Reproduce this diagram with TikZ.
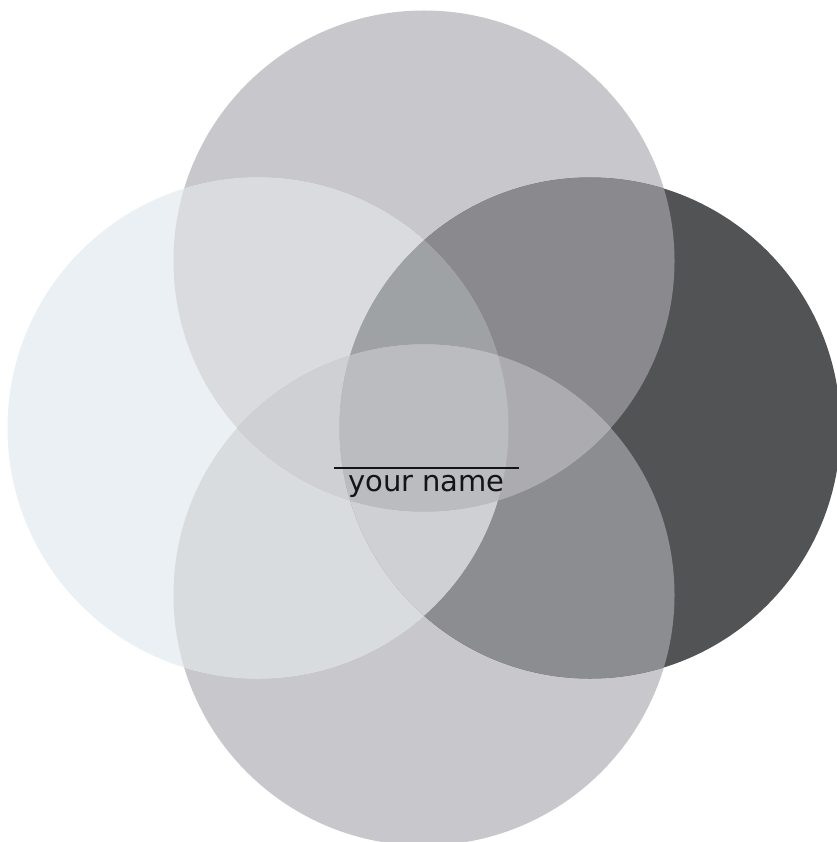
\documentclass[tikz,border=0pt]{standalone}
\usepackage{fontspec}
\newfontfamily\labelfont{DejaVu Sans}
\definecolor{colT}{RGB}{200,199,204}
\definecolor{colB}{RGB}{200,199,203}
\definecolor{colL}{RGB}{234,240,243}
\definecolor{colR}{RGB}{82,83,85}
\definecolor{colTL}{RGB}{217,219,223}
\definecolor{colBL}{RGB}{217,220,223}
\definecolor{colTR}{RGB}{138,138,142}
\definecolor{colBR}{RGB}{140,141,144}
\definecolor{colTLR}{RGB}{158,162,165}
\definecolor{colBLR}{RGB}{207,208,212}
\definecolor{colTLB}{RGB}{207,208,212}
\definecolor{colTRB}{RGB}{172,171,176}
\definecolor{colAll}{RGB}{187,188,192}
\definecolor{inkcol}{RGB}{20,20,20}
\begin{document}
\begin{tikzpicture}[x=1pt,y=-1pt,
  namelabel/.style={font=\labelfont\fontsize{29}{35}\selectfont, text=inkcol, anchor=base, inner sep=0pt},
  rulestyle/.style={draw=inkcol, line width=2pt}]
\useasboundingbox (0,0) rectangle (836,842);
\def\cT{(424,261) circle[radius=250.5pt]}
\def\cB{(424,595) circle[radius=250.5pt]}
\def\cL{(258,428) circle[radius=250.5pt]}
\def\cR{(590,428) circle[radius=250.5pt]}
% single circles
\fill[colT] \cT;
\fill[colB] \cB;
\fill[colL] \cL;
\fill[colR] \cR;
% pairs
\begin{scope}\clip \cT; \fill[colTL] \cL; \end{scope}
\begin{scope}\clip \cT; \fill[colTR] \cR; \end{scope}
\begin{scope}\clip \cB; \fill[colBL] \cL; \end{scope}
\begin{scope}\clip \cB; \fill[colBR] \cR; \end{scope}
\begin{scope}\clip \cT; \fill[colAll] \cB; \end{scope}
\begin{scope}\clip \cL; \fill[colAll] \cR; \end{scope}
% triples
\begin{scope}\clip \cT; \clip \cL; \fill[colTLR] \cR; \end{scope}
\begin{scope}\clip \cB; \clip \cL; \fill[colBLR] \cR; \end{scope}
\begin{scope}\clip \cT; \clip \cL; \fill[colTLB] \cB; \end{scope}
\begin{scope}\clip \cT; \clip \cR; \fill[colTRB] \cB; \end{scope}
% all four
\begin{scope}\clip \cT; \clip \cB; \clip \cL; \fill[colAll] \cR; \end{scope}
% label
\node[namelabel] (name) at (426.5,491.7) {your name};
\coordinate (ruleA) at (334,467.5);
\coordinate (ruleB) at (519,467.5);
\draw[rulestyle] (ruleA) -- (ruleB);
\end{tikzpicture}
\end{document}
